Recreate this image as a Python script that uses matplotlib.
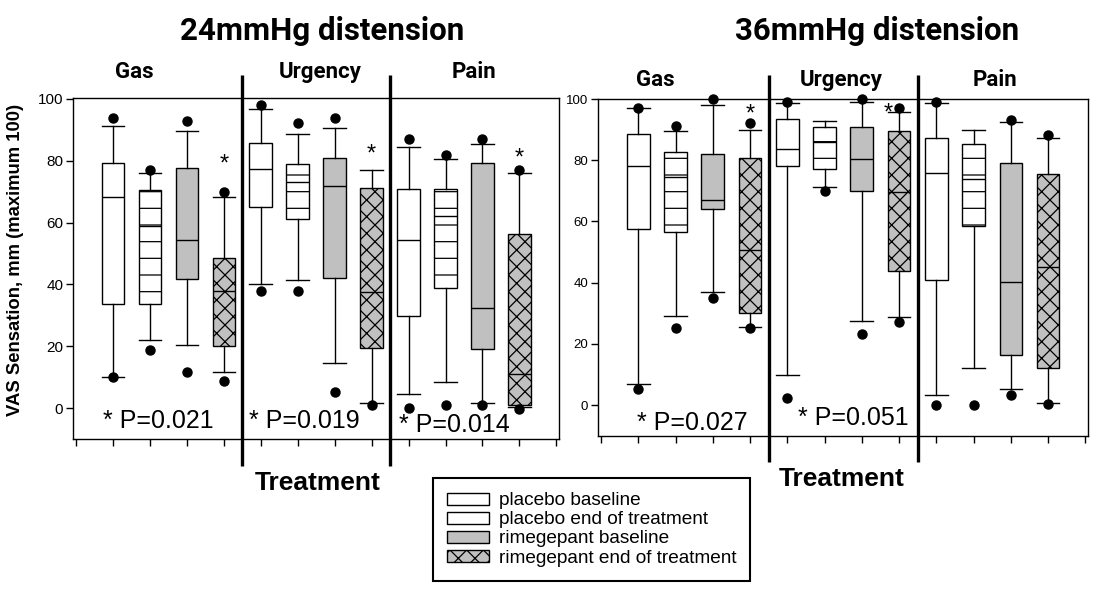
import matplotlib
matplotlib.use("Agg")
import matplotlib.pyplot as plt
import matplotlib.transforms as mtransforms
from matplotlib.patches import Patch

plt.rcParams['font.family'] = ['Liberation Sans', 'DejaVu Sans']
plt.rcParams['hatch.linewidth'] = 0.9

# ---------------- data ----------------
groups = ["placebo baseline", "placebo end of treatment",
          "rimegepant baseline", "rimegepant end of treatment"]
symptoms = ["Gas", "Urgency", "Pain"]

# 24 mmHg distension: Gas (4 groups), Urgency (4 groups), Pain (4 groups)
whislo_24 = [10.0, 22.0, 20.4, 11.8, 40.1, 41.4, 14.5, 1.8, 4.6, 8.3, 1.8, 0.3]
q1_24 = [33.7, 33.7, 41.9, 20.2, 65.1, 61.0, 42.2, 19.4, 29.9, 38.9, 19.1, 1.1]
med_24 = [68.3, 59.0, 54.3, 37.8, 77.3, 73.1, 71.7, 37.4, 54.3, 62.2, 32.3, 11.0]
q3_24 = [79.2, 70.6, 77.6, 48.7, 85.7, 79.0, 80.9, 71.2, 71.0, 71.0, 79.4, 56.2]
whishi_24 = [91.1, 76.2, 89.5, 68.3, 96.6, 88.7, 90.5, 76.9, 84.6, 80.6, 85.3, 76.1]
dot_hi_24 = [93.9, 76.9, 92.8, 69.9, 98.1, 92.2, 93.9, None, 86.9, 81.9, 86.9, 76.9]
dot_lo_24 = [10.0, 18.8, 11.8, 8.8, 38.0, 38.0, 5.1, 0.9, 0.0, 0.9, 0.9, -0.2]
star_idx_24 = [3, 7, 11]
star_val_24 = [81.0, 84.0, 82.8]
pvals_24 = ["* P=0.021", "* P=0.019", "* P=0.014"]

# 36 mmHg distension
whislo_36 = [6.9, 29.1, 37.0, 25.6, 9.8, 71.1, 27.6, 28.9, 3.3, 12.0, 5.1, 0.8]
q1_36 = [57.4, 56.4, 63.9, 30.2, 78.1, 77.1, 70.0, 43.8, 40.8, 58.5, 16.3, 12.0]
med_36 = [78.1, 74.6, 67.0, 50.7, 83.6, 85.8, 80.3, 69.5, 75.7, 73.9, 40.1, 45.0]
q3_36 = [88.5, 82.8, 81.9, 80.8, 93.5, 90.7, 91.0, 89.7, 87.1, 85.2, 79.0, 75.5]
whishi_36 = [96.9, 89.7, 98.0, 89.9, 98.6, 92.9, 99.1, 95.6, 98.8, 89.9, 92.4, 87.1]
dot_hi_36 = [96.9, 91.2, 100.0, 92.0, 99.1, None, 100.0, 96.9, 99.1, None, 93.1, 88.2]
dot_lo_36 = [5.1, 25.1, 34.9, 25.1, 2.2, 70.0, 23.2, 27.0, 0.0, 0.0, 3.3, 0.3]
star_idx_36 = [3, 7]
star_val_36 = [97.0, 97.5]
pvals_36 = ["* P=0.027", "* P=0.051"]

titles = ["24mmHg distension", "36mmHg distension"]
ylabel = "VAS Sensation, mm (maximum 100)"
xlabel = "Treatment"
yticks = [0, 20, 40, 60, 80, 100]

# ---------------- styles ----------------
faces = ['white', 'white', '#c0c0c0', '#c0c0c0']
hatches = [None, '-', None, 'xx']

W, H = 1093, 596
fig = plt.figure(figsize=(W / 100, H / 100), dpi=100)


def fx(px):
    return px / W


def fy(py):
    return 1 - py / H


def make_panel(rect, ylim, data, tick_fs, stars, star_dx, pvals, pval_pos,
               sym_px, sym_y, treat_x, treat_y, sep_top, sep_bot):
    x0, y0, x1, y1 = rect
    ax = fig.add_axes([fx(x0), fy(y1), (x1 - x0) / W, (y1 - y0) / H])
    whislo, q1, med, q3, whishi, dhi, dlo = data
    stats = []
    for i in range(len(med)):
        fl = [v for v in (dhi[i], dlo[i]) if v is not None]
        stats.append(dict(med=med[i], q1=q1[i], q3=q3[i], whislo=whislo[i],
                          whishi=whishi[i], fliers=fl))
    positions = [1 + i for i in range(len(med))]
    bp = ax.bxp(stats, positions=positions, widths=0.61, capwidths=0.61,
                patch_artist=True, showfliers=True,
                boxprops=dict(linewidth=1.0, edgecolor='black'),
                whiskerprops=dict(linewidth=1.0, color='black'),
                capprops=dict(linewidth=1.0, color='black'),
                medianprops=dict(linewidth=1.0, color='black'),
                flierprops=dict(marker='o', markerfacecolor='black',
                                markeredgecolor='black', markersize=6.5))
    for i, b in enumerate(bp['boxes']):
        b.set_facecolor(faces[i % 4])
        if hatches[i % 4]:
            b.set_hatch(hatches[i % 4])
    for f in bp['fliers']:
        f.set_clip_on(False)
    ax.set_xlim(-0.08, 13.07)
    ax.set_ylim(*ylim)
    ax.set_yticks(yticks)
    ax.set_xticks(range(0, 14))
    ax.set_xticklabels([])
    ax.tick_params(axis='y', direction='out', length=5, width=1, labelsize=tick_fs, pad=2)
    ax.tick_params(axis='x', direction='out', length=5, width=1)
    for s in ax.spines.values():
        s.set_linewidth(1.0)
        s.set_color('black')
    idx, vals = stars
    for k, (i, v) in enumerate(zip(idx, vals)):
        ax.annotate('*', (positions[i] + star_dx[k], v), xytext=(0, -9),
                    textcoords='offset points', ha='center', va='baseline',
                    fontsize=17)
    for t, (px, py) in zip(pvals, pval_pos):
        ax.text(px, py, t, ha='center', va='center', fontsize=18)
    blend = mtransforms.blended_transform_factory(ax.transData, ax.transAxes)
    for sx in (4.5, 8.5):
        ax.plot([sx, sx], [sep_top, sep_bot], transform=blend, clip_on=False,
                color='black', linewidth=2.4, solid_capstyle='butt')
    for name, px in zip(symptoms, sym_px):
        fig.text(fx(px), fy(sym_y), name, ha='center', va='center',
                 fontsize=16, fontweight='bold', family=['Roboto', 'DejaVu Sans'])
    fig.text(fx(treat_x), fy(treat_y), xlabel, ha='center', va='baseline',
             fontsize=19, fontweight='bold')
    return ax


axL = make_panel((73, 98, 559, 439), (-10.0, 100.3),
                 (whislo_24, q1_24, med_24, q3_24, whishi_24, dot_hi_24, dot_lo_24),
                 11, (star_idx_24, star_val_24), [0, 0, 0],
                 pvals_24, [(2.22, -4.2), (6.19, -4.2), (10.24, -5.5)],
                 [134, 320, 474], 72, 318, 490, 1.067, -0.079)
axR = make_panel((598, 99, 1088, 436), (-10.1, 100.0),
                 (whislo_36, q1_36, med_36, q3_36, whishi_36, dot_hi_36, dot_lo_36),
                 9.5, (star_idx_36, star_val_36), [0, -0.3],
                 pvals_36, [(2.45, -5.9), (6.77, -4.2)],
                 [655, 841, 995], 80, 842, 486, 1.071, -0.077)

axL.set_ylabel(ylabel, fontsize=13.3, fontweight='bold')
axL.yaxis.set_label_coords(-0.1, 0.525)

for t, x in zip(titles, (322, 877)):
    fig.text(fx(x), fy(40), t, ha='center', va='baseline', fontsize=22.5,
             fontweight='bold', family=['Roboto', 'DejaVu Sans'])

handles = [Patch(facecolor=faces[k], edgecolor='black', hatch=hatches[k], linewidth=1.0)
           for k in range(4)]
leg = fig.legend(handles, groups, loc='upper left',
                 bbox_to_anchor=(fx(433), fy(478)), bbox_transform=fig.transFigure,
                 fontsize=13.7, frameon=True, fancybox=False, edgecolor='black',
                 framealpha=1, borderaxespad=0, borderpad=0.75, labelspacing=0.11,
                 handlelength=2.2, handleheight=0.6, handletextpad=0.5)
leg.get_frame().set_linewidth(1.5)

fig.savefig('out.png', dpi=100)
